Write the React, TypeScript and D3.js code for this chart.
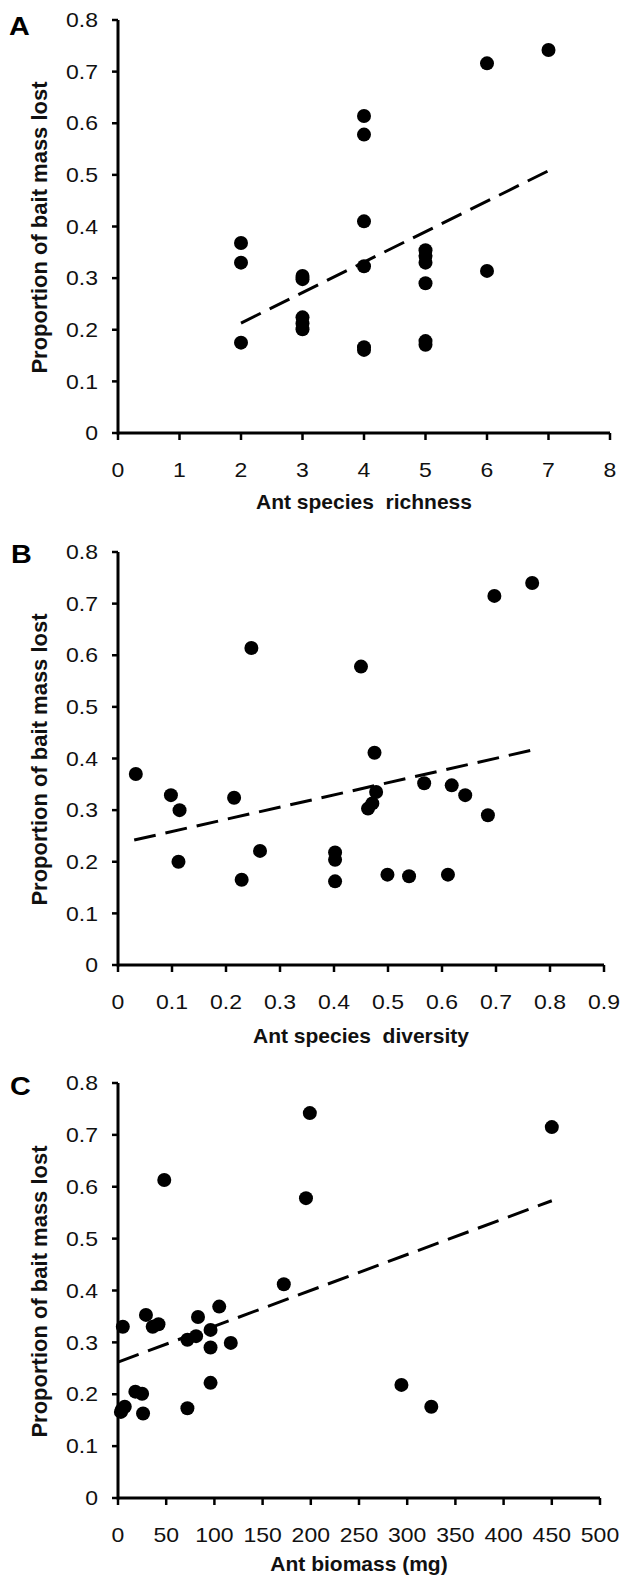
import React from 'react';
import * as d3 from 'd3';

// Panel A: ant species richness
const richness = [2, 2, 2, 3, 3, 3, 3, 3, 4, 4, 4, 4, 4, 4, 5, 5, 5, 5, 5, 5, 6, 6, 7];
const lossA = [0.368, 0.330, 0.175, 0.304, 0.298, 0.224, 0.212, 0.201, 0.614, 0.578, 0.410, 0.323, 0.166, 0.161, 0.354, 0.343, 0.330, 0.290, 0.178, 0.171, 0.716, 0.314, 0.742];
const fitA = [[2, 0.213], [7, 0.508]];
const ticksA = [0, 1, 2, 3, 4, 5, 6, 7, 8];

// Panel B: ant species diversity
const diversity = [0.033, 0.098, 0.114, 0.112, 0.215, 0.229, 0.247, 0.263, 0.402, 0.402, 0.402, 0.450, 0.463, 0.471, 0.478, 0.475, 0.499, 0.539, 0.567, 0.611, 0.618, 0.643, 0.685, 0.697, 0.767];
const lossB = [0.370, 0.329, 0.300, 0.200, 0.324, 0.165, 0.614, 0.221, 0.218, 0.204, 0.162, 0.578, 0.303, 0.313, 0.335, 0.411, 0.175, 0.172, 0.352, 0.175, 0.348, 0.329, 0.290, 0.715, 0.740];
const fitB = [[0.03, 0.242], [0.77, 0.417]];
const ticksB = [0, 0.1, 0.2, 0.3, 0.4, 0.5, 0.6, 0.7, 0.8, 0.9];

// Panel C: ant biomass
const biomass = [5, 3, 7, 4, 18, 25, 26, 29, 36, 42, 48, 72, 72, 81, 83, 96, 96, 96, 105, 117, 172, 195, 199, 294, 325, 450];
const lossC = [0.330, 0.166, 0.176, 0.170, 0.205, 0.201, 0.163, 0.353, 0.330, 0.335, 0.613, 0.173, 0.305, 0.312, 0.349, 0.324, 0.290, 0.222, 0.369, 0.299, 0.412, 0.578, 0.742, 0.218, 0.176, 0.715];
const fitC = [[0, 0.262], [450, 0.573]];
const ticksC = [0, 50, 100, 150, 200, 250, 300, 350, 400, 450, 500];

const yTicks = [0, 0.1, 0.2, 0.3, 0.4, 0.5, 0.6, 0.7, 0.8];
const yTitle = 'Proportion of bait mass lost';

const FONT = '"Liberation Sans", Arial, sans-serif';
const STRETCH = 1.15; // the source figure is a bit wider than tall
const fmt1 = (d: number) => (d === 0 ? '0' : d.toFixed(1));

interface PanelCfg {
  letter: string;
  xs: number[];
  ys: number[];
  fit: number[][];
  xTicks: number[];
  xFmt: (d: number) => string;
  xTitle: string;
  left: number;
  right: number;
  top: number;
  bottom: number;
  titleGap: number;
  letterX: number;
  letterY: number;
}

const panels: PanelCfg[] = [
  { letter: 'A', xs: richness, ys: lossA, fit: fitA, xTicks: ticksA, xFmt: d => String(d),
    xTitle: 'Ant species  richness', left: 118, right: 610, top: 20, bottom: 433, titleGap: 76, letterX: 9, letterY: 35 },
  { letter: 'B', xs: diversity, ys: lossB, fit: fitB, xTicks: ticksB, xFmt: fmt1,
    xTitle: 'Ant species  diversity', left: 118, right: 604, top: 552, bottom: 965, titleGap: 78, letterX: 11, letterY: 563 },
  { letter: 'C', xs: biomass, ys: lossC, fit: fitC, xTicks: ticksC, xFmt: d => String(d),
    xTitle: 'Ant biomass (mg)', left: 118, right: 600, top: 1083, bottom: 1498, titleGap: 73, letterX: 10, letterY: 1095 },
];

const SText: React.FC<{ x: number; y: number; anchor?: string; size: number; bold?: boolean; dy?: string; children: React.ReactNode }> =
  ({ x, y, anchor = 'start', size, bold, dy, children }) => (
    <text transform={`translate(${x},${y}) scale(${STRETCH},1)`} dy={dy} textAnchor={anchor}
      fontSize={size} fontWeight={bold ? 'bold' : 'normal'} style={{ whiteSpace: 'pre' }}>{children}</text>
  );

const Panel: React.FC<{ p: PanelCfg }> = ({ p }) => {
  const xMax = p.xTicks[p.xTicks.length - 1];
  const x = d3.scaleLinear().domain([0, xMax]).range([p.left, p.right]);
  const y = d3.scaleLinear().domain([0, 0.8]).range([p.bottom, p.top]);
  const line = d3.line<number[]>().x(d => x(d[0])).y(d => y(d[1]));

  return (
    <g fontFamily={FONT} fill="#111">
      {/* axes */}
      <line x1={x(0)} x2={x(xMax)} y1={y(0)} y2={y(0)} stroke="#000" strokeWidth={3} />
      <line x1={x(0)} x2={x(0)} y1={y(0) + 1.5} y2={y(0.8)} stroke="#000" strokeWidth={3} />
      {yTicks.map(t => (
        <g key={'y' + t}>
          <line x1={x(0) - 6} x2={x(0)} y1={y(t)} y2={y(t)} stroke="#000" strokeWidth={2.5} />
          <SText x={x(0) - 20} y={y(t)} dy="0.36em" anchor="end" size={20}>{fmt1(t)}</SText>
        </g>
      ))}
      {p.xTicks.map(t => (
        <g key={'x' + t}>
          <line x1={x(t)} x2={x(t)} y1={y(0)} y2={y(0) + 7} stroke="#000" strokeWidth={2.5} />
          <SText x={x(t)} y={y(0) + 44} anchor="middle" size={20}>{p.xFmt(t)}</SText>
        </g>
      ))}

      {/* dashed trend line */}
      <path d={line(p.fit) || ''} fill="none" stroke="#000" strokeWidth={3} strokeDasharray="22 10" />

      {p.xs.map((v, i) => (
        <circle key={i} cx={x(v)} cy={y(p.ys[i])} r={7} fill="#000" />
      ))}

      {/* titles */}
      <text x={(p.left + p.right) / 2} y={p.bottom + p.titleGap} textAnchor="middle"
        fontWeight="bold" fontSize={21} style={{ whiteSpace: 'pre' }}>{p.xTitle}</text>
      <text transform={`translate(47,${(p.top + p.bottom) / 2 + 1}) rotate(-90)`} textAnchor="middle"
        fontWeight="bold" fontSize={22}>{yTitle}</text>
      <g fill="#000"><SText x={p.letterX} y={p.letterY} size={25} bold>{p.letter}</SText></g>
    </g>
  );
};

export default function App() {
  return (
    <svg width={622} height={1577}
      style={{ position: 'absolute', left: 0, top: 0, background: '#fff' }}>
      {panels.map(p => <Panel key={p.letter} p={p} />)}
    </svg>
  );
}
